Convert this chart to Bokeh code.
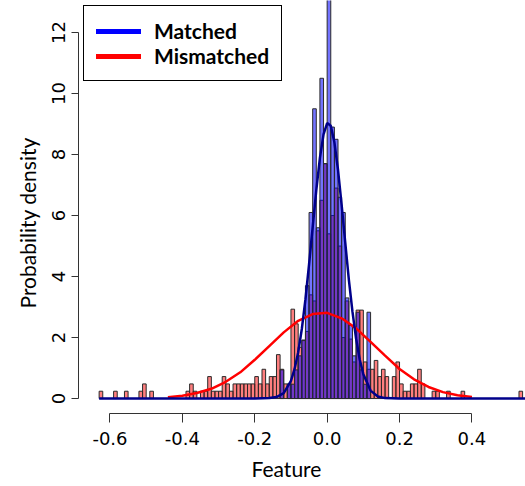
import math
from bokeh.plotting import figure
from bokeh.models import (Range1d, LinearAxis, FixedTicker, Legend, LegendItem,
                          ColumnDataSource, Title)
from bokeh.embed import file_html
from bokeh.resources import INLINE

# ---------------- data ----------------
bin_width = 0.01

# Mismatched histogram: left edges of bins and densities
red_left = [round(-0.63 + i * bin_width, 2) for i in range(117)]   # -0.63 .. 0.53
red_density = [
    0.24, 0, 0, 0, 0.24, 0, 0, 0.24, 0, 0,            # -0.63 .. -0.54
    0, 0.24, 0.48, 0, 0.24, 0, 0, 0, 0, 0,            # -0.53 .. -0.44
    0, 0, 0, 0, 0.24, 0.48, 0.24, 0, 0.24, 0.24,      # -0.43 .. -0.34
    0.72, 0.24, 0.24, 0.24, 0.72, 0.48, 0.24, 0.48, 0.48, 0.48,   # -0.33 .. -0.24
    0.48, 0.48, 0.48, 0.72, 0.48, 0.96, 0.48, 0.72, 0.72, 1.44,   # -0.23 .. -0.14
    0.96, 0.48, 0.48, 2.93, 2.45, 1.68, 1.92, 2.2, 3.4, 3.2,      # -0.13 .. -0.04
    5.5, 6.5, 7.7, 5.4, 6.0, 6.9, 5.0, 2.0, 3.2, 1.95,            # -0.03 .. 0.06
    1.2, 2.9, 2.9, 1.2, 0.96, 0.96, 1.25, 0.72, 0.96, 0.72,       # 0.07 .. 0.16
    0, 0.72, 1.2, 0.48, 0.24, 0.24, 0.48, 0.48, 0.96, 0.48,       # 0.17 .. 0.26
    0, 0, 0.24, 0.24, 0, 0, 0.24, 0, 0, 0,                        # 0.27 .. 0.36
    0.24, 0, 0, 0, 0, 0, 0, 0, 0, 0,                              # 0.37 .. 0.46
    0, 0, 0, 0, 0, 0, 0.24,                                       # 0.47 .. 0.53
]

# Matched histogram
blue_left = [round(-0.13 + i * bin_width, 2) for i in range(25)]   # -0.13 .. 0.11
blue_density = [
    0.94, 0, 0.47, 0.47, 0.94, 1.4, 1.9, 3.7, 6.1, 9.5,
    5.6, 10.5, 7.7, 14.0, 8.9, 8.5, 6.6, 6.1, 3.3, 2.4,
    1.4, 2.83, 0.94, 0.47, 2.83,
]

# Fitted density curves
blue_curve_x = [-0.63, -0.20, -0.16, -0.14, -0.12, -0.10, -0.09, -0.08, -0.07, -0.06,
                -0.05, -0.04, -0.03, -0.02, -0.01, 0.00, 0.01, 0.02, 0.03, 0.04,
                0.05, 0.06, 0.07, 0.08, 0.09, 0.10, 0.12, 0.14, 0.16, 0.20, 0.55]
blue_curve_y = [0, 0, 0.015, 0.05, 0.18, 0.58, 0.97, 1.52, 2.28, 3.25,
                4.40, 5.62, 6.83, 7.89, 8.66, 9.03, 8.94, 8.40, 7.50, 6.35,
                5.11, 3.89, 2.84, 1.96, 1.28, 0.80, 0.26, 0.07, 0.015, 0, 0]

red_curve_x = [-0.44, -0.40, -0.36, -0.32, -0.28, -0.24, -0.20, -0.16, -0.12, -0.08,
               -0.04, 0.00, 0.04, 0.08, 0.12, 0.16, 0.20, 0.24, 0.28, 0.32, 0.36, 0.40]
red_curve_y = [0.04, 0.09, 0.18, 0.32, 0.55, 0.86, 1.27, 1.72, 2.17, 2.55,
               2.77, 2.81, 2.63, 2.30, 1.86, 1.41, 0.97, 0.63, 0.38, 0.21, 0.11, 0.05]

x_ticks = [-0.6, -0.4, -0.2, 0.0, 0.2, 0.4]
x_tick_labels = ["-0.6", "-0.4", "-0.2", "0.0", "0.2", "0.4"]
y_ticks = [0, 2, 4, 6, 8, 10, 12]
y_tick_labels = ["0", "2", "4", "6", "8", "10", "12"]
series_names = ["Matched", "Mismatched"]
x_title = "Feature"
y_title = "Probability density"

# ---------------- figure ----------------
p = figure(width=525, height=486,
           x_range=Range1d(-0.687, 0.548), y_range=Range1d(-0.49, 13.05),
           x_axis_type=None, y_axis_type=None,
           output_backend="svg", toolbar_location=None,
           min_border_left=78, min_border_right=0, min_border_top=0, min_border_bottom=73)
p.outline_line_color = None
p.background_fill_color = "white"
p.border_fill_color = "white"

axis_color = "#333333"
xaxis = LinearAxis(ticker=FixedTicker(ticks=x_ticks), bounds=(x_ticks[0], x_ticks[-1]),
                   major_label_overrides={t: s for t, s in zip(x_ticks, x_tick_labels)},
                   major_tick_in=0, major_tick_out=9, minor_tick_in=0, minor_tick_out=0,
                   axis_line_color=axis_color, major_tick_line_color=axis_color,
                   major_label_text_font="DejaVu Sans", major_label_text_font_size="18px",
                   major_label_text_color="black", major_label_standoff=9)
p.add_layout(xaxis, "below")

yaxis = LinearAxis(ticker=FixedTicker(ticks=y_ticks), bounds=(y_ticks[0], y_ticks[-1]),
                   major_label_overrides={t: s for t, s in zip(y_ticks, y_tick_labels)},
                   major_tick_in=0, major_tick_out=7, minor_tick_in=0, minor_tick_out=0,
                   axis_line_color=axis_color, major_tick_line_color=axis_color,
                   major_label_text_font="DejaVu Sans", major_label_text_font_size="18px",
                   major_label_text_color="black", major_label_standoff=6,
                   major_label_orientation="parallel")
p.add_layout(yaxis, "left")

# axis titles (side titles, shifted along the axis like the reference)
p.add_layout(Title(text=x_title, align="left", offset=173, standoff=12,
                   text_font="Lato", text_font_size="21px", text_font_style="normal",
                   text_color="black"), "below")
p.add_layout(Title(text=y_title, align="left", offset=105, standoff=19,
                   text_font="Lato", text_font_size="21px", text_font_style="normal",
                   text_color="black"), "left")

# histograms
red_src = ColumnDataSource(dict(
    left=[l for l, d in zip(red_left, red_density) if d > 0],
    right=[round(l + bin_width, 2) for l, d in zip(red_left, red_density) if d > 0],
    top=[d for d in red_density if d > 0]))
blue_src = ColumnDataSource(dict(
    left=[l for l, d in zip(blue_left, blue_density) if d > 0],
    right=[round(l + bin_width, 2) for l, d in zip(blue_left, blue_density) if d > 0],
    top=[d for d in blue_density if d > 0]))

p.quad(left="left", right="right", bottom=0, top="top", source=red_src,
       fill_color="#FF0000", fill_alpha=0.5, line_color="#2a2a2a", line_width=1)
p.quad(left="left", right="right", bottom=0, top="top", source=blue_src,
       fill_color="#0000FF", fill_alpha=0.55, line_color="#2a2a2a", line_width=1)

# curves
p.line(red_curve_x, red_curve_y, color="#FF0000", line_width=2.5)
p.line(blue_curve_x, blue_curve_y, color="#00008B", line_width=2.5)

# legend swatches (brighter colours than the curves; not drawn in the plot area)
nan = float("nan")
lb = p.line(x=[nan], y=[nan], color="#0000FF", line_width=5, line_cap="round")
lr = p.line(x=[nan], y=[nan], color="#FF0000", line_width=5, line_cap="round")
legend = Legend(items=[LegendItem(label=series_names[0], renderers=[lb]),
                       LegendItem(label=series_names[1], renderers=[lr])],
                location=(5, 332), orientation="vertical",
                border_line_color="black", border_line_width=1, border_line_alpha=1,
                background_fill_color="white", background_fill_alpha=1,
                padding=12, spacing=0, margin=0,
                glyph_width=45, glyph_height=20, label_height=20, label_standoff=13,
                label_text_font="Lato", label_text_font_style="bold",
                label_text_font_size="21px", label_text_color="black")
p.add_layout(legend, "center")

open("out.html", "w").write(file_html(p, INLINE))
